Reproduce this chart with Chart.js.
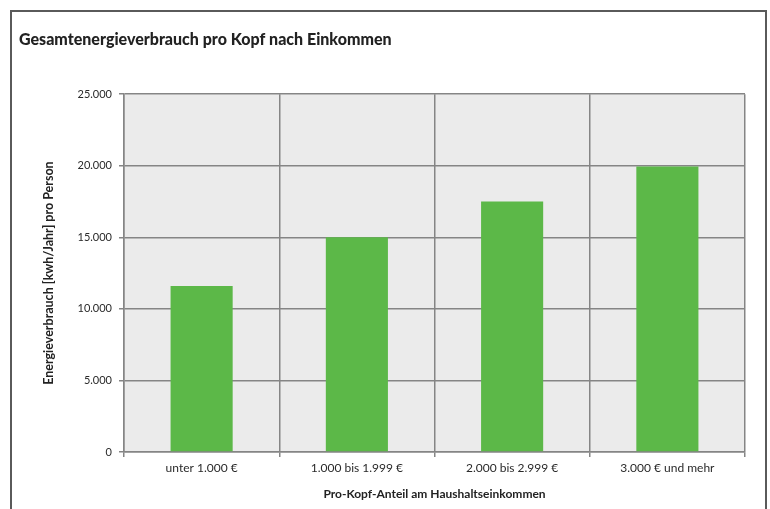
<!DOCTYPE html>
<html>
<head>
<meta charset="utf-8">
<script src="https://cdn.jsdelivr.net/npm/chart.js@4.4.0/dist/chart.umd.min.js"></script>
<style>
  html, body { margin: 0; padding: 0; background: #ffffff; overflow: hidden; }
  #wrap { position: relative; width: 770px; height: 509px; }
  #frame { position: absolute; left: 10px; top: 10px; width: 757px; height: 600px; border: 2px solid #5a5a5a; box-sizing: border-box; }
  canvas { position: absolute; left: 0; top: 0; }
</style>
</head>
<body>
<div id="wrap">
  <div id="frame"></div>
  <canvas id="c" width="770" height="509"></canvas>
</div>
<script>
const categories = ["unter 1.000 €", "1.000 bis 1.999 €", "2.000 bis 2.999 €", "3.000 € und mehr"];
const energyPerPerson = [11600, 15000, 17500, 19950];
const yTicks = [0, 5000, 10000, 15000, 20000, 25000];
const chartTitle = "Gesamtenergieverbrauch pro Kopf nach Einkommen";
const xTitle = "Pro-Kopf-Anteil am Haushaltseinkommen";
const yTitle = "Energieverbrauch [kwh/Jahr] pro Person";

function fmt(v) { return String(v).replace(/\B(?=(\d{3})+(?!\d))/g, "."); }

const plotBg = {
  id: 'plotBg',
  beforeDraw(chart) {
    const {ctx, chartArea: a} = chart;
    ctx.save();
    ctx.fillStyle = '#ebebeb';
    ctx.fillRect(a.left, a.top, a.right - a.left, a.bottom - a.top);
    ctx.restore();
  }
};

const FONT = "Lato, 'Open Sans', sans-serif";
const gridCol = '#858585';

new Chart(document.getElementById('c'), {
  type: 'bar',
  data: {
    labels: categories,
    datasets: [{
      data: energyPerPerson,
      backgroundColor: '#5cb848',
      borderWidth: 0,
      barPercentage: 0.4,
      categoryPercentage: 1.0
    }]
  },
  options: {
    responsive: false,
    animation: false,
    layout: { padding: { left: 19, right: 25, top: 0, bottom: 0 } },
    plugins: {
      legend: { display: false },
      tooltip: { enabled: false },
      title: {
        display: true,
        text: chartTitle,
        align: 'start',
        color: '#222',
        font: { family: FONT, size: 16, weight: '900', lineHeight: 1.2 },
        padding: { top: 30, bottom: 45 }
      }
    },
    scales: {
      x: {
        afterFit(s) { s.height = 57; },
        grid: { display: true, offset: true, color: gridCol, lineWidth: 1.5, tickLength: 5, drawTicks: true },
        border: { display: true, color: gridCol, width: 1.5 },
        ticks: { color: '#2a2a2a', font: { family: FONT, size: 12, lineHeight: 1.2 }, padding: 4, maxRotation: 0 },
        title: {
          display: true, text: xTitle, color: '#222',
          font: { family: FONT, size: 12, weight: 'bold', lineHeight: 1.2 },
          padding: { top: 0, bottom: 8 }
        }
      },
      y: {
        min: 0, max: 25000,
        afterFit(s) { s.width = 105; },
        afterBuildTicks(s) { s.ticks = yTicks.map(v => ({ value: v })); },
        grid: { color: gridCol, lineWidth: 1.5, tickLength: 5, drawTicks: true },
        border: { display: true, color: gridCol, width: 1.5 },
        ticks: { color: '#2a2a2a', font: { family: FONT, size: 11 }, padding: 7, callback: v => fmt(v) },
        title: {
          display: true, text: yTitle, color: '#222',
          font: { family: FONT, size: 12.5, weight: 'bold', lineHeight: 1.2 },
          padding: { top: 22, bottom: 0 }
        }
      }
    }
  },
  plugins: [plotBg]
});
</script>
</body>
</html>
